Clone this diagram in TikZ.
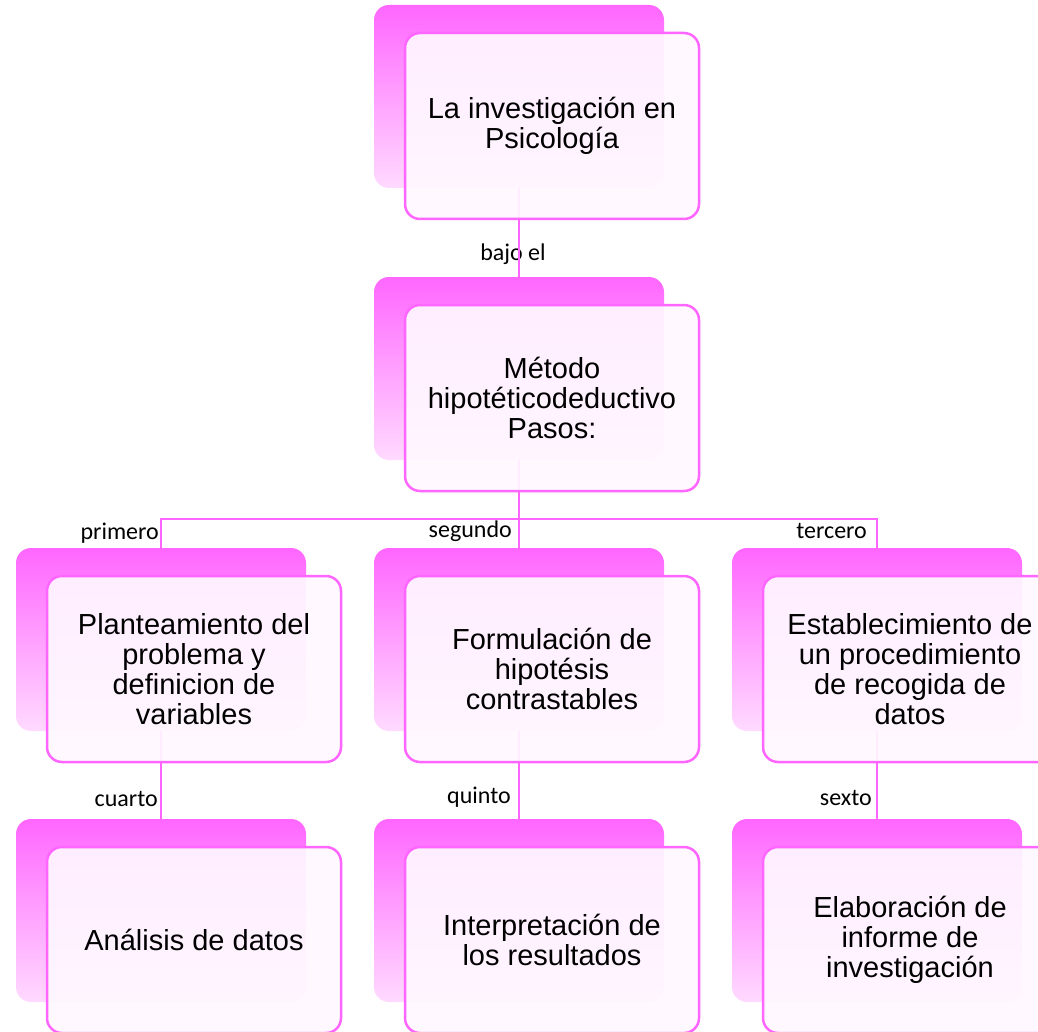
\documentclass[tikz,border=0pt]{standalone}
\usepackage{fontspec}
\setmainfont{Liberation Sans}
\newfontfamily\lblfont{Carlito}
\definecolor{mag}{RGB}{255,102,255}
\definecolor{magpale}{RGB}{255,218,255}
\definecolor{frontfill}{RGB}{255,248,255}
\tikzset{
  backbox/.style={rectangle, rounded corners=15pt, minimum width=290pt, minimum height=183pt,
    inner sep=0pt, outer sep=0pt, anchor=north west, top color=mag, bottom color=magpale, draw=none},
  frontbox/.style={rectangle, rounded corners=15pt, minimum width=294pt, minimum height=186pt,
    inner sep=0pt, outer sep=0pt, anchor=north west, draw=mag, line width=2.5pt,
    fill=frontfill, fill opacity=0.92, text opacity=1, align=center,
    font=\fontsize{29}{30}\selectfont},
  conn/.style={draw=mag, line width=2pt},
  lbl/.style={inner sep=0pt, font=\lblfont\fontsize{24}{26}\selectfont}
}
\begin{document}
\begin{tikzpicture}[x=1pt,y=-1pt]
\useasboundingbox (0,0) rectangle (1038,1032);
\clip (0,0) rectangle (1038,1032);
% back boxes
\node[backbox] (b1) at (374,5) {};
\node[backbox] (b2) at (374,277) {};
\node[backbox] (b3) at (16,548) {};
\node[backbox] (b4) at (374,548) {};
\node[backbox] (b5) at (732,548) {};
\node[backbox] (b6) at (16,819) {};
\node[backbox] (b7) at (374,819) {};
\node[backbox] (b8) at (732,819) {};
% labels
\node[lbl] (t0) at ([xshift=-6pt,yshift=23pt]b2.north) {bajo el};
\node[lbl,anchor=east] (t1) at ([xshift=-2pt,yshift=15pt]b3.north) {primero};
\node[lbl,anchor=east] (t2) at ([xshift=-7pt,yshift=17pt]b4.north) {segundo};
\node[lbl,anchor=east] (t3) at ([xshift=-10pt,yshift=17pt]b5.north) {tercero};
\node[lbl,anchor=east] (t4) at ([xshift=-3pt,yshift=20pt]b6.north) {cuarto};
\node[lbl,anchor=east] (t5) at ([xshift=-8pt,yshift=22pt]b7.north) {quinto};
\node[lbl,anchor=east] (t6) at ([xshift=-5pt,yshift=21pt]b8.north) {sexto};
% connectors
\coordinate (bus) at (519,519);
\draw[conn] (b1.south) -- (b2.north);
\draw[conn] (b2.south) -- (bus);
\draw[conn] (b3.north) |- (bus) -| (b5.north);
\draw[conn] (bus) -- (b4.north);
\draw[conn] (b3.south) -- (b6.north);
\draw[conn] (b4.south) -- (b7.north);
\draw[conn] (b5.south) -- (b8.north);
% front boxes
\node[frontbox] (f1) at (405,33) {La investigación en\\Psicología};
\node[frontbox] (f2) at (405,305) {Método\\hipotéticodeductivo\\Pasos:};
\node[frontbox] (f3) at (47,576) {Planteamiento del\\problema y\\definicion de\\variables};
\node[frontbox] (f4) at (405,576) {Formulación de\\hipotésis\\contrastables};
\node[frontbox] (f5) at (763,576) {Establecimiento de\\un procedimiento\\de recogida de\\datos};
\node[frontbox] (f6) at (47,847) {Análisis de datos};
\node[frontbox] (f7) at (405,847) {Interpretación de\\los resultados};
\node[frontbox] (f8) at (763,847) {Elaboración de\\informe de\\investigación};
\end{tikzpicture}
\end{document}
